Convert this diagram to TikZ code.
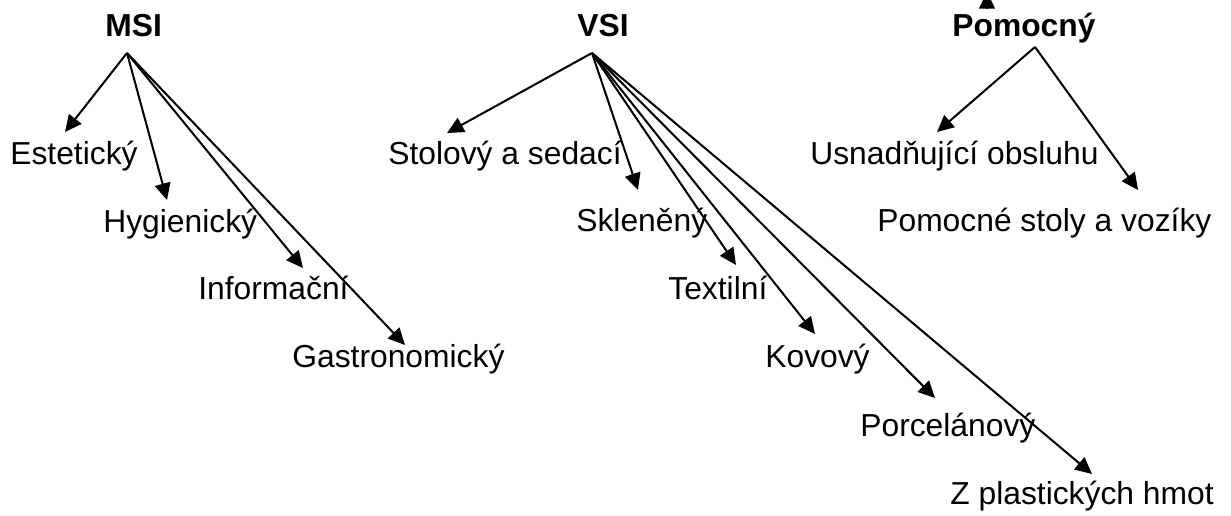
\documentclass[tikz,border=0pt]{standalone}
\usepackage{fontspec}
\setmainfont{Liberation Sans}
\usetikzlibrary{arrows.meta}
\begin{document}
\begin{tikzpicture}[x=0.02cm, y=-0.02cm,
  lbl/.style={anchor=base west, inner sep=0pt, font=\fontsize{18.1}{22}\selectfont},
  head/.style={lbl, font=\fontsize{18.1}{22}\selectfont\bfseries},
  link/.style={line width=1.15pt, -{Triangle[length=9.5pt, width=9pt]}}]
\clip (0,0) rectangle (1231,516);

% category headings
\node[head] (msi) at (105,37) {MSI};
\node[head] (vsi) at (577,37) {VSI};
\node[head] (pom) at (952,37) {Pomocný};

% MSI items
\node[lbl] (est) at (10,165) {Estetický};
\node[lbl] (hyg) at (103,233) {Hygienický};
\node[lbl] (inf) at (198,300) {Informační};
\node[lbl] (gas) at (292,368) {Gastronomický};

% VSI items
\node[lbl] (sto) at (388,165) {Stolový a sedací};
\node[lbl] (skl) at (576,232) {Skleněný};
\node[lbl] (tex) at (668,300) {Textilní};
\node[lbl] (kov) at (765,368) {Kovový};
\node[lbl] (por) at (860,437) {Porcelánový};
\node[lbl] (pla) at (950,505) {Z plastických hmot};

% auxiliary items
\node[lbl] (usn) at (810,165) {Usnadňující obsluhu};
\node[lbl] (vuz) at (877,232) {Pomocné stoly a vozíky};

% branching points and arrow ends
\coordinate (msi-o) at (127,53);
\coordinate (vsi-o) at (592,53);
\coordinate (pom-o) at (1035,47);

\coordinate (est-t) at (65,132);
\coordinate (hyg-t) at (167,200);
\coordinate (inf-t) at (303,268);
\coordinate (gas-t) at (405,345);

\coordinate (sto-t) at (447,133);
\coordinate (skl-t) at (638,190);
\coordinate (tex-t) at (736,265);
\coordinate (kov-t) at (815,334);
\coordinate (por-t) at (935,398);
\coordinate (pla-t) at (1092,474);

\coordinate (usn-t) at (937,132);
\coordinate (vuz-t) at (1138,190);

\coordinate (up-s) at (987,9);
\coordinate (up-t) at (987,-8);

% connectors
\foreach \t in {est,hyg,inf,gas} \draw[link] (msi-o) -- (\t-t);
\foreach \t in {sto,skl,tex,kov,por,pla} \draw[link] (vsi-o) -- (\t-t);
\foreach \t in {usn,vuz} \draw[link] (pom-o) -- (\t-t);
\draw[link] (up-s) -- (up-t);
\end{tikzpicture}
\end{document}
